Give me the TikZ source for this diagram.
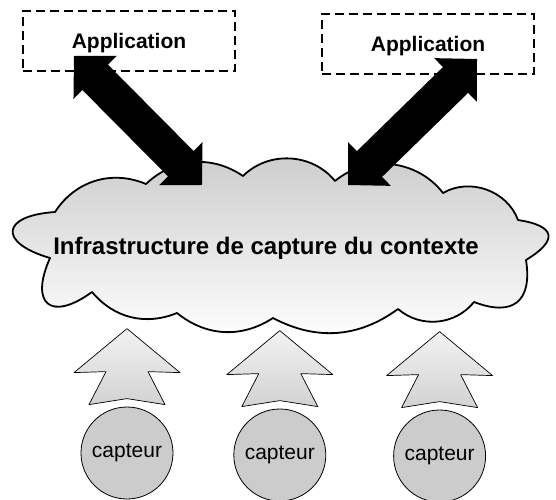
\documentclass[tikz,border=0pt]{standalone}
\usepackage{fontspec}
\setmainfont{Liberation Sans}
\usetikzlibrary{calc}
\usetikzlibrary{positioning,shapes}
\def\T#1{\fontsize{#1}{#1}\selectfont}
% grosse fleche double entre deux points
\newcommand\fleche[2]{%
  \fill let \p1=($(#2)-(#1)$), \n1={atan2(\y1,\x1)}, \n2={veclen(\x1,\y1)} in
    [shift={(#1)}, rotate=\n1]
    (0,0) -- (30,-30.5) -- (30,-18) -- ({\n2-30},-18) -- ({\n2-30},-30.5) -- ({\n2},0)
    -- ({\n2-30},30.5) -- ({\n2-30},18) -- (30,18) -- (30,30.5) -- cycle;}

\begin{document}
\begin{tikzpicture}[%
      x=1pt, y=-1pt,
      app/.style={rectangle, draw, dash pattern=on 9pt off 5pt, line width=1.8pt,
        minimum width=212pt, minimum height=60pt, text height=19pt, text depth=4.5pt,
        font=\T{21}\bfseries},
      capteur/.style={circle, draw, fill=gray!40, line width=0.8pt,
        minimum size=92pt, inner sep=0pt, font=\T{21}},
      flux/.style={draw, line width=0.7pt, line join=round, top color=gray!10, bottom color=gray!35},
      node distance=60pt
    ]
    \useasboundingbox (0,0) rectangle (556,499);
    \node [app] (app1) at (129,41) {Application};
    \node [app] (app2) at (428,44) {Application};
    % nuage
    \path [draw, line width=1.8pt, line join=round, top color=gray!40, bottom color=white]
      (146,184) to[bend left=39] (243,176) to[bend left=48] (335,181)
      to[bend left=46] (443,193) to[bend left=50] (518,220)
      to[bend left=70, looseness=2.4] (526,260) to[bend left=60, looseness=1.6] (474,302)
      to[bend left=46] (398,309) to[bend left=32] (273,318)
      to[bend left=36] (177,313) to[bend left=36] (92,292)
      to[bend left=75, looseness=2.4] (50,258) to[bend left=80, looseness=3] (55,212)
      to[bend left=40] (146,184) -- cycle;
    \node [font=\T{24}\bfseries] (infra) at (266,248) {Infrastructure de capture du contexte};
    \coordinate (a1) at (74,56);
    \coordinate (b1) at (202,185);
    \coordinate (a2) at (477,59);
    \coordinate (b2) at (348,185);
    \fleche{a1}{b1}
    \fleche{a2}{b2}
    % capteurs
    \node [capteur] (c1) at (127,453) {capteur};
    \node [capteur] (c2) [right=60pt of c1, yshift=-2pt] {capteur};
    \node [capteur] (c3) [right=67pt of c2, yshift=-1pt] {capteur};
    \foreach \c in {c1,c2,c3}
      \draw [flux] ([yshift=78pt]\c.north) -- ++(53,44) -- ++(-32,-1) -- ++(17,33)
        -- ++(-38,-6) -- ++(-38,6) -- ++(17,-33) -- ++(-32,1) -- cycle;
  \end{tikzpicture}
\end{document}
